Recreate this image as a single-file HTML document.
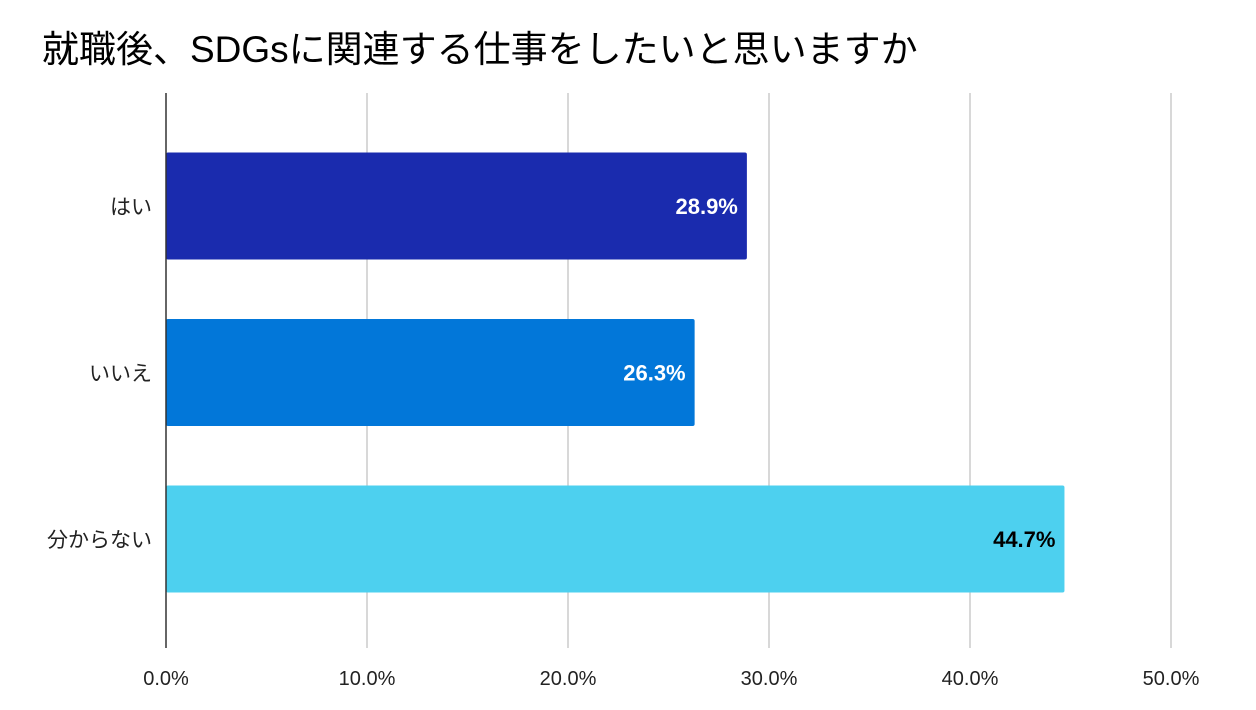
<!DOCTYPE html>
<html><head><meta charset="utf-8">
<style>
body{margin:0;background:#fff;}
svg{display:block;font-family:"Liberation Sans","Noto Sans CJK JP",sans-serif;}
</style></head>
<body>
<svg id="chart" width="1256" height="710">
<text x="42" y="62" font-size="37" fill="#000">就職後、SDGsに関連する仕事をしたいと思いますか</text>
<g id="grid"></g>
<g id="bars"></g>
<g id="labels"></g>
</svg>
<script>
const categories=["はい","いいえ","分からない"];
const values=[28.9,26.3,44.7];
const valueLabels=["28.9%","26.3%","44.7%"];
const ticks=[0,10,20,30,40,50];
const tickLabels=["0.0%","10.0%","20.0%","30.0%","40.0%","50.0%"];
const colors=["#1a2bae","#0277d9","#4dd0ef"];
const labelColors=["#fff","#fff","#000"];
const NS="http://www.w3.org/2000/svg";
const x0=166,x1=1171,xmax=50,plotTop=93,plotBottom=648;
const xs=v=>x0+(x1-x0)*v/xmax;
const yc=i=>206+i*166.5;
const barH=107;
function mk(t,a,p){const e=document.createElementNS(NS,t);for(const k in a)e.setAttribute(k,a[k]);p.appendChild(e);return e;}
const grid=document.getElementById('grid'),bars=document.getElementById('bars'),labels=document.getElementById('labels');
ticks.forEach((t,i)=>{
  if(i>0){const l=mk('line',{x1:xs(t),x2:xs(t),y1:plotTop,y2:plotBottom,stroke:'#ccc','stroke-width':1.5},grid);
  
  }
  const tx=mk('text',{x:xs(t),y:685,'font-size':20,'text-anchor':'middle',fill:'#222'},labels);
  tx.textContent=tickLabels[i];
  
  
});
categories.forEach((c,i)=>{
  const y=yc(i)-barH/2;
  const r=mk('rect',{x:x0,y:y,width:xs(values[i])-x0,height:barH,fill:colors[i],rx:2},bars);
  
  
  const v=mk('text',{x:xs(values[i])-9,y:yc(i)+8,'font-size':22,'font-weight':'bold','text-anchor':'end',fill:labelColors[i]},labels);
  v.textContent=valueLabels[i];
  
  
  const cl=mk('text',{x:152,y:yc(i)+8,'font-size':21,'text-anchor':'end',fill:'#222'},labels);
  cl.textContent=c;
  
  
});
const ax=mk('line',{x1:x0,x2:x0,y1:plotTop,y2:plotBottom,stroke:'#333','stroke-width':1.5},labels);


</script>
</body></html>
